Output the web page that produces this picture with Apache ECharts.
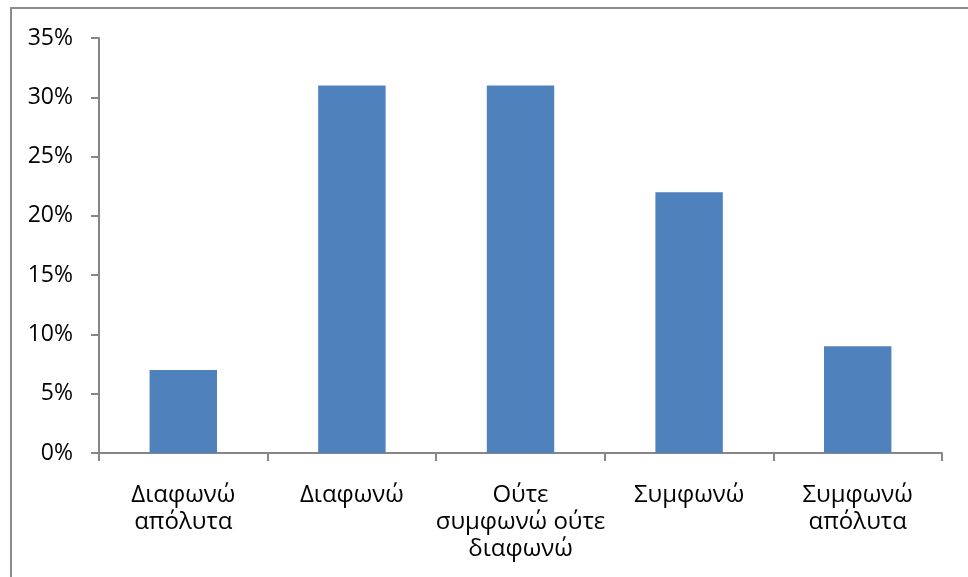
<!DOCTYPE html>
<html>
<head>
<meta charset="utf-8">
<script src="https://cdn.jsdelivr.net/npm/echarts@6/dist/echarts.min.js"></script>
<style>html,body{margin:0;padding:0;background:#fff;}#c{width:968px;height:577px;}</style>
</head>
<body>
<div id="c"></div>
<script>
var categories = ['Διαφωνώ\nαπόλυτα', 'Διαφωνώ', 'Ούτε\nσυμφωνώ ούτε\nδιαφωνώ', 'Συμφωνώ', 'Συμφωνώ\nαπόλυτα'];
var values = [7, 31, 31, 22, 9];
var yMin = 0, yMax = 35, yStep = 5;

var chart = echarts.init(document.getElementById('c'), null, {renderer: 'canvas'});
var font = '"Open Sans", "Noto Sans", sans-serif';
chart.setOption({
  backgroundColor: '#ffffff',
  animation: false,
  graphic: [{
    type: 'rect', silent: true,
    shape: {x: 11, y: 8, width: 1000, height: 600},
    style: {fill: 'none', stroke: '#8c8c8c', lineWidth: 2}
  }],
  grid: {left: 99, right: 26, top: 38, bottom: 124, containLabel: false},
  xAxis: {
    type: 'category',
    data: categories,
    axisLine: {lineStyle: {color: '#868686', width: 2}},
    axisTick: {show: true, alignWithLabel: false, length: 8, lineStyle: {color: '#868686', width: 2}},
    axisLabel: {color: '#000', fontFamily: font, fontSize: 24, lineHeight: 27, margin: 29, interval: 0}
  },
  yAxis: {
    type: 'value',
    min: yMin, max: yMax, interval: yStep,
    axisLine: {show: true, lineStyle: {color: '#868686', width: 2}},
    axisTick: {show: true, length: 8, lineStyle: {color: '#868686', width: 2}},
    splitLine: {show: false},
    axisLabel: {color: '#000', fontFamily: font, fontSize: 23, margin: 26, formatter: '{value}%'}
  },
  series: [{
    type: 'bar',
    data: values,
    barWidth: '40%',
    itemStyle: {color: '#4F81BD'}
  }]
});
</script>
</body>
</html>
